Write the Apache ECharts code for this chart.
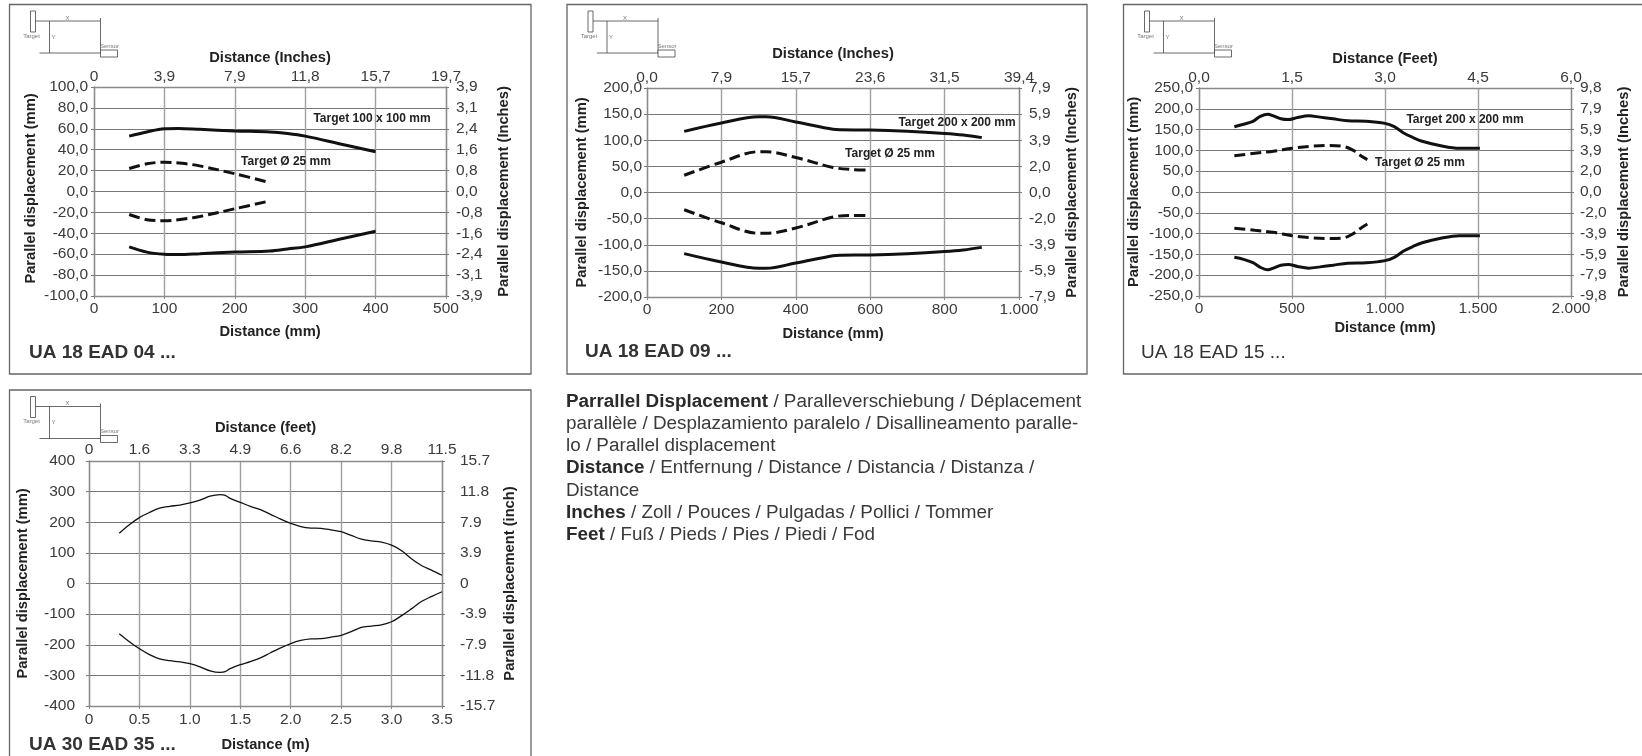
<!DOCTYPE html>
<html><head><meta charset="utf-8">
<script src="https://cdn.jsdelivr.net/npm/echarts@6/dist/echarts.min.js"></script>
<style>html,body{margin:0;padding:0;background:#fff}#c{width:1642px;height:756px}</style>
</head><body><div id="c"></div>
<script>
// ---------- tick labels ----------
const c1Left=['-100,0','-80,0','-60,0','-40,0','-20,0','0,0','20,0','40,0','60,0','80,0','100,0'];
const c1Right=['-3,9','-3,1','-2,4','-1,6','-0,8','0,0','0,8','1,6','2,4','3,1','3,9'];
const c1Top=['0','3,9','7,9','11,8','15,7','19,7'];
const c1Bottom=['0','100','200','300','400','500'];
const c2Left=['-200,0','-150,0','-100,0','-50,0','0,0','50,0','100,0','150,0','200,0'];
const c2Right=['-7,9','-5,9','-3,9','-2,0','0,0','2,0','3,9','5,9','7,9'];
const c2Top=['0,0','7,9','15,7','23,6','31,5','39,4'];
const c2Bottom=['0','200','400','600','800','1.000'];
const c3Left=['-250,0','-200,0','-150,0','-100,0','-50,0','0,0','50,0','100,0','150,0','200,0','250,0'];
const c3Right=['-9,8','-7,9','-5,9','-3,9','-2,0','0,0','2,0','3,9','5,9','7,9','9,8'];
const c3Top=['0,0','1,5','3,0','4,5','6,0'];
const c3Bottom=['0','500','1.000','1.500','2.000'];
const c4Left=['-400','-300','-200','-100','0','100','200','300','400'];
const c4Right=['-15.7','-11.8','-7.9','-3.9','0','3.9','7.9','11.8','15.7'];
const c4Top=['0','1.6','3.3','4.9','6.6','8.2','9.8','11.5'];
const c4Bottom=['0','0.5','1.0','1.5','2.0','2.5','3.0','3.5'];
// ---------- series values ----------
const c1SolidX=[50,75,100,120,150,200,250,275,300,350,400];
const c1SolidUp=[53,57,60,60.3,59.5,58,57,55.5,53,45.5,38];
const c1SolidLo=[-53,-58,-60,-60.3,-59.5,-58,-57,-55,-53,-45.5,-38];
const c1DashX=[50,75,100,125,150,200,250];
const c1DashUp=[22,26.5,28,27,24.5,17,8.5];
const c1DashLo=[-22,-27,-28,-26.5,-24,-16.5,-9];
const c2SolidX=[100,200,300,320,400,500,520,600,700,800,850,900];
const c2SolidUp=[117,133,145,145,135,121,120,119.5,117,113,110,105];
const c2SolidLo=[-117,-133,-145,-145,-135,-121,-120,-119.5,-117,-113,-110,-105];
const c2DashX=[100,200,300,320,400,500,550,600];
const c2DashUp=[33,58,78,78,67,48,44,43];
const c2DashLo=[-33,-58,-78,-78,-68,-47,-44,-44];
const c3SolidX=[190,240,290,330,370,400,440,480,530,590,650,720,800,900,1000,1050,1100,1150,1200,1300,1400,1510];
const c3SolidUp=[157,163,170,182,187,183,176,174,179,183,180,176,171,170,165,157,142,131,122,111,105,105];
const c3SolidLo=[-157,-162,-170,-181,-187,-183,-176,-174,-179,-183,-180,-176,-171,-170,-165,-157,-142,-131,-122,-111,-105,-105];
const c3DashX=[190,300,400,500,600,700,780,830,870,905];
const c3DashUp=[87,93,98,105,110,112,109,100,87,78];
const c3DashLo=[-87,-92,-97,-105,-110,-112,-110,-100,-87,-77];
const c4X=[0.3,0.4,0.5,0.6,0.7,0.8,0.9,1.0,1.1,1.2,1.3,1.35,1.4,1.5,1.6,1.7,1.8,1.9,2.0,2.1,2.2,2.3,2.4,2.5,2.6,2.7,2.8,2.9,3.0,3.1,3.2,3.3,3.4,3.5];
const c4Up=[164,192,215,232,246,252,256,263,272,285,290,288,278,265,252,241,226,210,196,186,181,180,175,169,157,145,139,135,125,107,80,58,43,27];
const c4Lo=[-164,-190,-213,-232,-246,-252,-256,-262,-272,-285,-290,-288,-278,-265,-255,-243,-226,-210,-196,-186,-181,-180,-175,-169,-157,-143,-139,-135,-125,-105,-82,-58,-42,-27];

const FONT='"Liberation Sans",Arial,sans-serif';
const TXT='#3a3a3a';
const zip=(x,y)=>x.map((v,i)=>[v,y[i]]);

const charts=[
 {frame:[9.5,4.5,521.5,369.5],plot:[94,87,352,209],xMax:500,xStep:100,yMax:100,yStep:20,
  left:c1Left,right:c1Right,top:c1Top,bottom:c1Bottom,
  xNameTop:'Distance (Inches)',xNameBottom:'Distance (mm)',yNameLeft:'Parallel displacement (mm)',yNameRight:'Parallel displacement (Inches)',
  gaps:{l:56,r:50.5,t:21.5,b:28.5},margins:{l:6,r:10,t:2.5,b:5},leftPad:6,
  lines:[[c1SolidX,c1SolidUp,0],[c1SolidX,c1SolidLo,0],[c1DashX,c1DashUp,1],[c1DashX,c1DashLo,1]],lw:3,
  title:'UA 18 EAD 04 ...',titleAt:[29,353],bold:true,
  notes:[['Target 100 x 100 mm',372,119],['Target Ø 25 mm',286,162]]},
 {frame:[567,4.5,520,369.5],plot:[647,88,372,209],xMax:1000,xStep:200,yMax:200,yStep:50,
  left:c2Left,right:c2Right,top:c2Top,bottom:c2Bottom,
  xNameTop:'Distance (Inches)',xNameBottom:'Distance (mm)',yNameLeft:'Parallel displacement (mm)',yNameRight:'Parallel displacement (Inches)',
  gaps:{l:57.5,r:45.5,t:26.5,b:29.5},margins:{l:5,r:10,t:2.5,b:5},leftPad:0,
  lines:[[c2SolidX,c2SolidUp,0],[c2SolidX,c2SolidLo,0],[c2DashX,c2DashUp,1],[c2DashX,c2DashLo,1]],lw:3,
  title:'UA 18 EAD 09 ...',titleAt:[585,352],bold:true,
  notes:[['Target 200 x 200 mm',957,123],['Target Ø 25 mm',890,154]]},
 {frame:[1123.5,4.5,530,369.5],plot:[1199,88,372,208],xMax:2000,xStep:500,yMax:250,yStep:50,
  left:c3Left,right:c3Right,top:c3Top,bottom:c3Bottom,
  xNameTop:'Distance (Feet)',xNameBottom:'Distance (mm)',yNameLeft:'Parallel displacement (mm)',yNameRight:'Parallel displacement (Inches)',
  gaps:{l:57.5,r:45.5,t:21.5,b:24.5},margins:{l:6,r:9,t:2.5,b:5},leftPad:0,
  lines:[[c3SolidX,c3SolidUp,0],[c3SolidX,c3SolidLo,0],[c3DashX,c3DashUp,1],[c3DashX,c3DashLo,1]],lw:3,
  title:'UA 18 EAD 15 ...',titleAt:[1141,353],bold:false,
  notes:[['Target 200 x 200 mm',1465,120],['Target Ø 25 mm',1420,163]]},
 {frame:[9.5,390,521.5,400],plot:[89,461,353,245],xMax:3.5,xStep:0.5,yMax:400,yStep:100,
  left:c4Left,right:c4Right,top:c4Top,bottom:c4Bottom,
  xNameTop:'Distance (feet)',xNameBottom:'Distance (m)',yNameLeft:'Parallel displacement (mm)',yNameRight:'Parallel displacement (inch)',
  gaps:{l:58.5,r:60.5,t:25.5,b:31.5},margins:{l:14,r:18,t:3.5,b:6},leftPad:0,
  lines:[[c4X,c4Up,0],[c4X,c4Lo,0]],lw:1.3,
  title:'UA 30 EAD 35 ...',titleAt:[29,745],bold:true,notes:[]}
];

const grid=[],xAxis=[],yAxis=[],series=[],graphic=[];
charts.forEach((c,i)=>{
  const [l,t,w,h]=c.plot;
  grid.push({left:l,top:t,width:w,height:h,containLabel:false});
  const nameStyle={fontFamily:FONT,fontWeight:'bold',fontSize:14.7,color:'#222'};
  const lab=(arr,min,step,margin)=>({show:true,fontFamily:FONT,fontSize:15.5,color:TXT,margin,showMinLabel:true,showMaxLabel:true,hideOverlap:false,
     formatter:v=>arr[Math.round((v-min)/step)]??''});
  const xBase={type:'value',gridIndex:i,min:0,max:c.xMax,interval:c.xStep,
     axisLine:{show:true,onZero:false,lineStyle:{color:'#8a8a8a',width:1.3}},
     axisTick:{show:true,length:3,lineStyle:{color:'#8a8a8a'}},minorTick:{show:false}};
  xAxis.push({...xBase,position:'bottom',name:c.xNameBottom,nameLocation:'middle',nameGap:c.gaps.b,nameTextStyle:nameStyle,
     axisLabel:lab(c.bottom,0,c.xStep,c.margins.b),
     splitLine:{show:true,lineStyle:{color:'#a0a0a0',width:1.4}}});
  xAxis.push({...xBase,position:'top',name:c.xNameTop,nameLocation:'middle',nameGap:c.gaps.t,nameTextStyle:nameStyle,
     axisLabel:lab(c.top,0,c.xStep,c.margins.t),axisTick:{show:false},splitLine:{show:false}});
  const yBase={type:'value',gridIndex:i,min:-c.yMax,max:c.yMax,interval:c.yStep,
     axisLine:{show:true,onZero:false,lineStyle:{color:'#8a8a8a',width:1.3}},
     axisTick:{show:true,length:3,lineStyle:{color:'#777'}}};
  yAxis.push({...yBase,position:'left',name:c.yNameLeft,nameLocation:'middle',nameGap:c.gaps.l,nameRotate:90,
     nameTextStyle:{...nameStyle,padding:[0,0,0,c.leftPad]},
     axisLabel:lab(c.left,-c.yMax,c.yStep,c.margins.l),
     splitLine:{show:true,lineStyle:{color:'#666',width:0.9}}});
  yAxis.push({...yBase,position:'right',name:c.yNameRight,nameLocation:'middle',nameGap:c.gaps.r,nameRotate:90,nameTextStyle:nameStyle,
     axisLabel:lab(c.right,-c.yMax,c.yStep,c.margins.r),splitLine:{show:false}});
  c.lines.forEach(([x,y,dashed])=>{
    series.push({type:'line',xAxisIndex:i*2,yAxisIndex:i*2,data:zip(x,y),showSymbol:false,symbol:'none',smooth:0.35,
      z:5,silent:true,
      lineStyle:{color:'#111',width:c.lw,type:dashed?[11,5]:'solid',cap:'butt'}});
  });
  // frame
  const [fx,fy,fw,fh]=c.frame;
  graphic.push({type:'rect',z:-1,shape:{x:fx,y:fy,width:fw,height:fh},style:{fill:'#fff',stroke:'#666',lineWidth:1.3}});
  // chart caption
  graphic.push({type:'text',x:c.titleAt[0],y:c.titleAt[1],style:{text:c.title,font:`${c.bold?'bold ':''}19px ${FONT}`,fill:'#333',textVerticalAlign:'middle'}});
  c.notes.forEach(([s,x,y])=>graphic.push({type:'text',x,y,z:10,style:{text:s,font:`bold 12px ${FONT}`,fill:'#222',textAlign:'center',textVerticalAlign:'middle'}}));
  // schematic inset
  const ox=fx+21,oy=fy+6.5,ln='#444';
  const L=(x1,y1,x2,y2)=>graphic.push({type:'line',shape:{x1:ox+x1,y1:oy+y1,x2:ox+x2,y2:oy+y2},style:{stroke:ln,lineWidth:0.8}});
  const R=(x,y,w2,h2)=>graphic.push({type:'rect',shape:{x:ox+x,y:oy+y,width:w2,height:h2},style:{fill:'#fff',stroke:ln,lineWidth:0.8}});
  const T=(s,x,y)=>graphic.push({type:'text',x:ox+x,y:oy+y,style:{text:s,font:`6px ${FONT}`,fill:'#777',textAlign:'center',textVerticalAlign:'middle'}});
  R(0,0,5,21);L(5,10,70,10);L(70,7,70,42);L(9,42,70,42);L(19,10,19,42);R(70,39,17,7);
  T('X',37,7);T('Y',23,26);T('Target',1,25);T('Sensor',79,35);
});

// translation block
const textLines=[
 ['Parrallel Displacement',' / Paralleverschiebung / Déplacement'],
 ['','parallèle / Desplazamiento paralelo / Disallineamento paralle-'],
 ['','lo / Parallel displacement'],
 ['Distance',' / Entfernung / Distance / Distancia / Distanza /'],
 ['','Distance'],
 ['Inches',' / Zoll / Pouces / Pulgadas / Pollici / Tommer'],
 ['Feet',' / Fuß / Pieds / Pies / Piedi / Fod']];
textLines.forEach(([b,n],k)=>{
  graphic.push({type:'text',x:566,y:401.5+k*22.2,style:{
    text:(b?`{b|${b}}`:'')+`{n|${n}}`,textVerticalAlign:'middle',
    rich:{b:{font:`bold 18.85px ${FONT}`,fill:'#2a2a2a'},n:{font:`18.85px ${FONT}`,fill:'#3a3a3a'}}}});
});

const chart=echarts.init(document.getElementById('c'),null,{renderer:'canvas'});
chart.setOption({animation:false,backgroundColor:'#fff',grid,xAxis,yAxis,series,graphic,tooltip:{show:false},legend:{show:false}});
</script></body></html>
